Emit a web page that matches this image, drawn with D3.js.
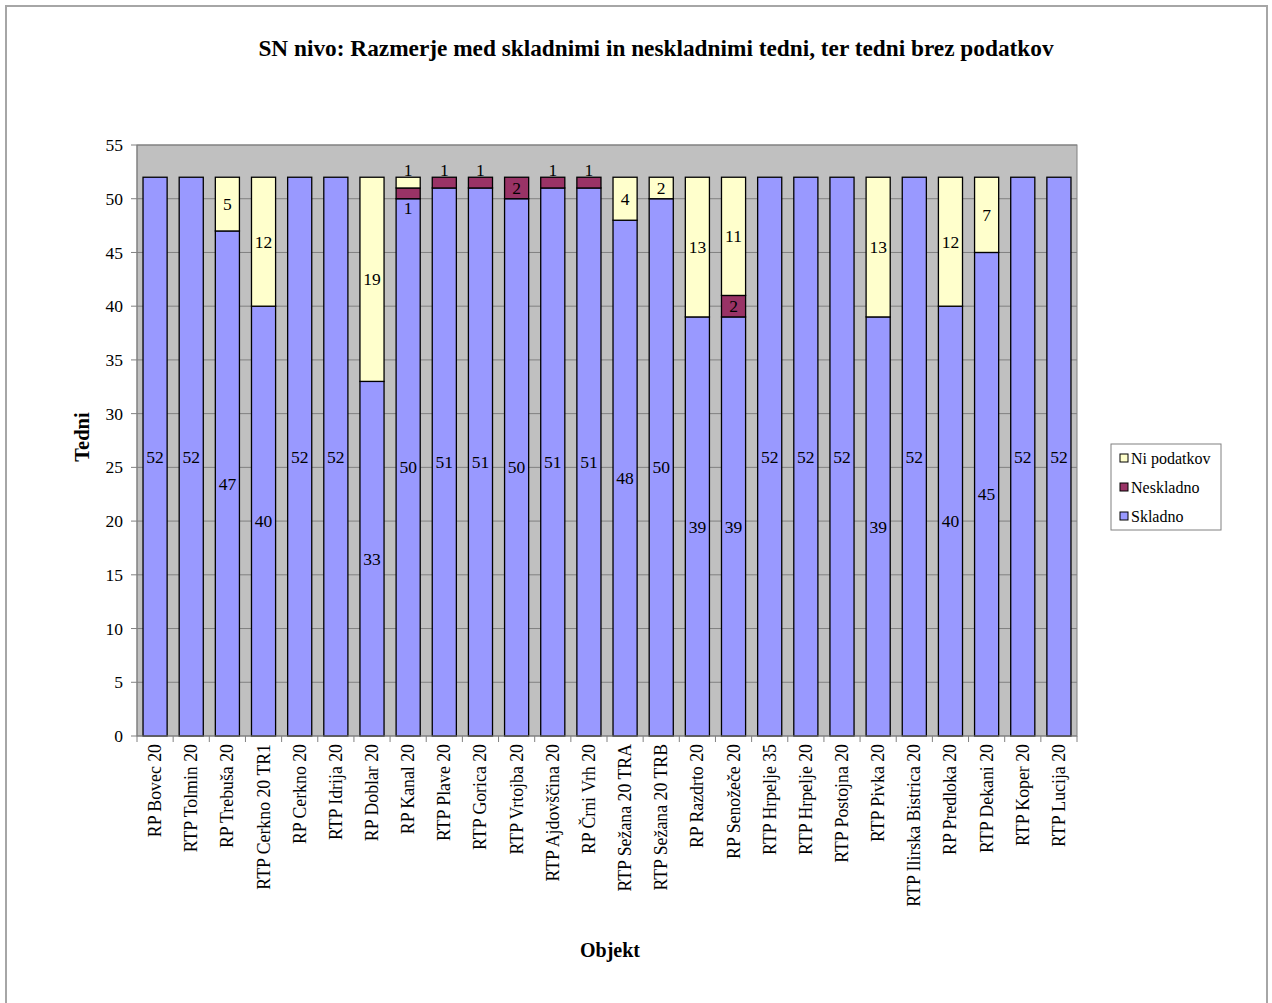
<!DOCTYPE html>
<html><head><meta charset="utf-8">
<script src="https://cdn.jsdelivr.net/npm/d3@7"></script>
<style>body{margin:0;background:#fff}svg{display:block}text{font-family:"Liberation Serif","Times New Roman",serif;fill:#000}</style>
</head><body>
<script>
const categories = ["RP Bovec 20","RTP Tolmin 20","RP Trebuša 20","RTP Cerkno 20 TR1","RP Cerkno 20","RTP Idrija 20","RP Doblar 20","RP Kanal 20","RTP Plave 20","RTP Gorica 20","RTP Vrtojba 20","RTP Ajdovščina 20","RP Črni Vrh 20","RTP Sežana 20 TRA","RTP Sežana 20 TRB","RP Razdrto 20","RP Senožeče 20","RTP Hrpelje 35","RTP Hrpelje 20","RTP Postojna 20","RTP Pivka 20","RTP Ilirska Bistrica 20","RP Predloka 20","RTP Dekani 20","RTP Koper 20","RTP Lucija 20"];
const skladno     = [52,52,47,40,52,52,33,50,51,51,50,51,51,48,50,39,39,52,52,52,39,52,40,45,52,52];
const neskladno   = [0,0,0,0,0,0,0,1,1,1,2,1,1,0,0,0,2,0,0,0,0,0,0,0,0,0];
const niPodatkov  = [0,0,5,12,0,0,19,1,0,0,0,0,0,4,2,13,11,0,0,0,13,0,12,7,0,0];
const seriesNames = ["Skladno","Neskladno","Ni podatkov"];
const seriesColors = ["#9999ff","#993366","#ffffcc"];
const yTicks = [0,5,10,15,20,25,30,35,40,45,50,55];
const title = "SN nivo: Razmerje med skladnimi in neskladnimi tedni, ter tedni brez podatkov";

const W = 1272, H = 1003;
const svg = d3.select("body").append("svg").attr("width", W).attr("height", H);
svg.append("rect").attr("x",6).attr("y",6).attr("width",1261).attr("height",1010)
  .attr("fill","#fff").attr("stroke","#a6a6a6").attr("stroke-width",2);

const L = 137, R = 1077, T = 145, B = 736;
const x = d3.scaleBand().domain(categories).range([L, R]).paddingInner(1/3).paddingOuter(1/6);
const y = d3.scaleLinear().domain([0,55]).range([B, T]);

svg.append("text").attr("x",656).attr("y",56).attr("text-anchor","middle")
  .attr("font-size",23.3).attr("font-weight","bold").text(title);

svg.append("rect").attr("x",L).attr("y",T).attr("width",R-L).attr("height",B-T)
  .attr("fill","#c0c0c0").attr("stroke","#808080").attr("stroke-width",1);

svg.append("g").selectAll("line").data(yTicks.filter(d=>d>0)).join("line")
  .attr("x1",L).attr("x2",R).attr("y1",d=>y(d)).attr("y2",d=>y(d))
  .attr("stroke","#808080").attr("stroke-width",1);

const rows = categories.map((c,i)=>({cat:c, Skladno:skladno[i], Neskladno:neskladno[i], "Ni podatkov":niPodatkov[i]}));
const stacked = d3.stack().keys(seriesNames)(rows);

const g = svg.append("g");
stacked.forEach((s,si)=>{
  g.append("g").selectAll("rect").data(s.filter(d=>d[1]-d[0]>0)).join("rect")
    .attr("x",d=>x(d.data.cat)).attr("width",x.bandwidth())
    .attr("y",d=>y(d[1])).attr("height",d=>y(d[0])-y(d[1]))
    .attr("fill",seriesColors[si]).attr("stroke","#000").attr("stroke-width",1.3);
});

// labels
const lab = svg.append("g").attr("font-size",17.5).attr("text-anchor","middle");
stacked.forEach((s,si)=>{
  s.forEach((d,i)=>{
    const v = d[1]-d[0];
    if (v<=0) return;
    let cy = (y(d[0])+y(d[1]))/2;
    const h = y(d[0])-y(d[1]);
    if (h < 16) {
      const isTop = stacked.slice(si+1).every(o=>o[i][1]-o[i][0]<=0);
      cy = isTop ? y(d[1]) - 7 : y(d[0]) + 9;
    }
    lab.append("text").attr("x",x(d.data.cat)+x.bandwidth()/2).attr("y",cy).attr("dy","0.35em").text(v);
  });
});

// y axis
const ya = svg.append("g").attr("font-size",17.5);
ya.append("line").attr("x1",L).attr("x2",L).attr("y1",T).attr("y2",B).attr("stroke","#808080");
yTicks.forEach(t=>{
  ya.append("line").attr("x1",L-6).attr("x2",L).attr("y1",y(t)).attr("y2",y(t)).attr("stroke","#808080");
  ya.append("text").attr("x",L-14).attr("y",y(t)).attr("dy","0.35em").attr("text-anchor","end").text(t);
});
// x axis
const xa = svg.append("g");
xa.append("line").attr("x1",L).attr("x2",R).attr("y1",B).attr("y2",B).attr("stroke","#808080");
d3.range(categories.length+1).forEach(i=>{
  const xx = L + i*(R-L)/categories.length;
  xa.append("line").attr("x1",xx).attr("x2",xx).attr("y1",B).attr("y2",B+6).attr("stroke","#808080");
});
xa.selectAll("text.cat").data(categories).join("text")
  .attr("font-size",17.8).attr("text-anchor","end")
  .attr("transform",d=>`translate(${x(d)+x.bandwidth()/2+6},${B+8}) rotate(-90)`)
  .text(d=>d);

svg.append("text").attr("transform","translate(89,437) rotate(-90)").attr("text-anchor","middle")
  .attr("font-size",20.5).attr("font-weight","bold").text("Tedni");
svg.append("text").attr("x",610).attr("y",957).attr("text-anchor","middle")
  .attr("font-size",20).attr("font-weight","bold").text("Objekt");

// legend
const lg = svg.append("g");
lg.append("rect").attr("x",1111).attr("y",444).attr("width",110).attr("height",86)
  .attr("fill","#fff").attr("stroke","#808080");
const legOrder = [2,1,0];
legOrder.forEach((si,k)=>{
  const yy = 458 + k*29;
  lg.append("rect").attr("x",1120).attr("y",yy-4).attr("width",8).attr("height",8)
    .attr("fill",seriesColors[si]).attr("stroke","#000");
  lg.append("text").attr("x",1131).attr("y",yy).attr("dy","0.35em").attr("font-size",16).text(seriesNames[si]);
});
</script>
</body></html>
